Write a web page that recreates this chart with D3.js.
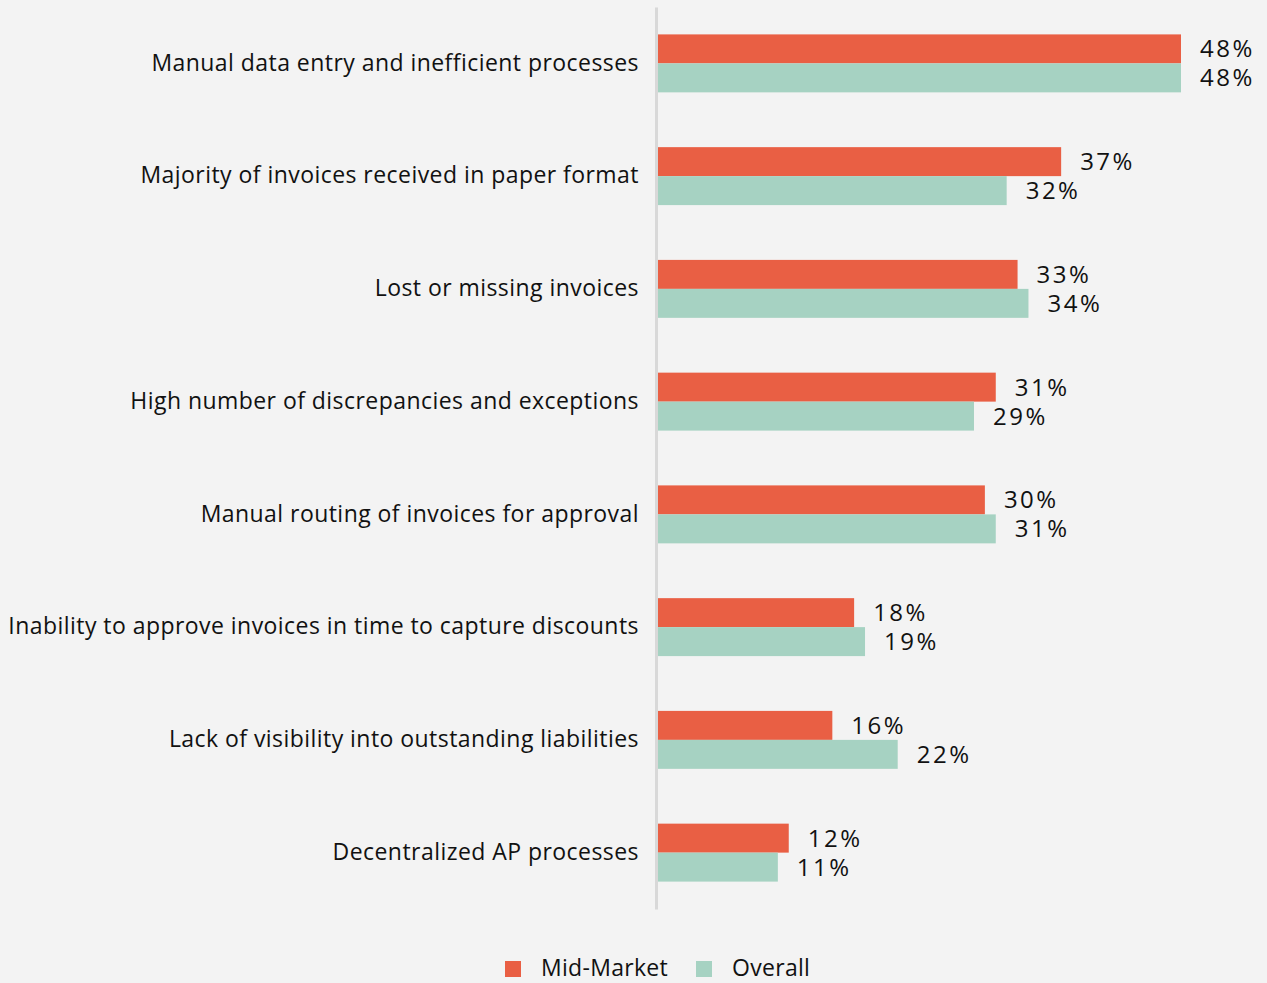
<!DOCTYPE html>
<html>
<head>
<meta charset="utf-8">
<script src="https://cdn.jsdelivr.net/npm/d3@7"></script>
<style>
  html, body { margin: 0; padding: 0; background: #f3f3f3; }
  svg { display: block; }
  text { font-family: "Open Sans", Lato, sans-serif; fill: #111; }
</style>
</head>
<body>
<svg id="chart" width="1267" height="983"></svg>
<script>
const categories = [
  "Manual data entry and inefficient processes",
  "Majority of invoices received in paper format",
  "Lost or missing invoices",
  "High number of discrepancies and exceptions",
  "Manual routing of invoices for approval",
  "Inability to approve invoices in time to capture discounts",
  "Lack of visibility into outstanding liabilities",
  "Decentralized AP processes"
];
const seriesNames = ["Mid-Market", "Overall"];
const midMarket = [48, 37, 33, 31, 30, 18, 16, 12];
const overall = [48, 32, 34, 29, 31, 19, 22, 11];
const colors = ["#e95f44", "#a6d2c2"];

const svg = d3.select("#chart");
const x0 = 658;
const x = d3.scaleLinear().domain([0, 48]).range([x0, 1181]);
const y = d3.scaleBand().domain(categories).range([7, 909])
  .paddingInner(0.486).paddingOuter(0.243);
const sub = d3.scaleBand().domain(seriesNames).range([0, y.bandwidth()]);

const data = categories.map((c, i) => ({ cat: c, vals: [midMarket[i], overall[i]] }));

const g = svg.append("g");
const groups = g.selectAll("g.grp").data(data).join("g")
  .attr("class", "grp")
  .attr("transform", d => `translate(0,${y(d.cat)})`);

groups.selectAll("rect").data(d => d.vals.map((v, j) => ({ v, s: seriesNames[j], j })))
  .join("rect")
  .attr("x", x0)
  .attr("y", d => sub(d.s))
  .attr("width", d => x(d.v) - x0)
  .attr("height", sub.bandwidth())
  .attr("fill", d => colors[d.j]);

groups.selectAll("text.val").data(d => d.vals.map((v, j) => ({ v, s: seriesNames[j], j })))
  .join("text")
  .attr("class", "val")
  .attr("x", d => x(d.v) + 19)
  .attr("y", d => sub(d.s) + sub.bandwidth() / 2 + 2)
  .attr("dominant-baseline", "middle")
  .style("font-size", "24px")
  .style("letter-spacing", "2.5px")
  .text(d => d.v + "%");

// category labels
g.selectAll("text.cat").data(categories).join("text")
  .attr("class", "cat")
  .attr("x", 639)
  .attr("y", d => y(d) + y.bandwidth() / 2 + 1)
  .attr("dominant-baseline", "middle")
  .attr("text-anchor", "end")
  .style("font-size", "23px")
  .style("letter-spacing", "0.45px")
  .text(d => d);

// axis line
const axis = d3.axisLeft(y).tickSize(0).tickFormat("");
g.append("g").attr("transform", `translate(${656},0)`).call(axis)
  .call(s => s.select(".domain").attr("stroke", "#d8d8d8").attr("stroke-width", 3));

// legend
const legend = svg.append("g");
const lx = [505, 696];
seriesNames.forEach((n, i) => {
  legend.append("rect").attr("x", lx[i]).attr("y", 961).attr("width", 16).attr("height", 16).attr("fill", colors[i]);
  legend.append("text").attr("x", lx[i] + 36).attr("y", 976).style("font-size", "23px")
    .style("letter-spacing", "0.3px").text(n);
});
</script>
</body>
</html>
